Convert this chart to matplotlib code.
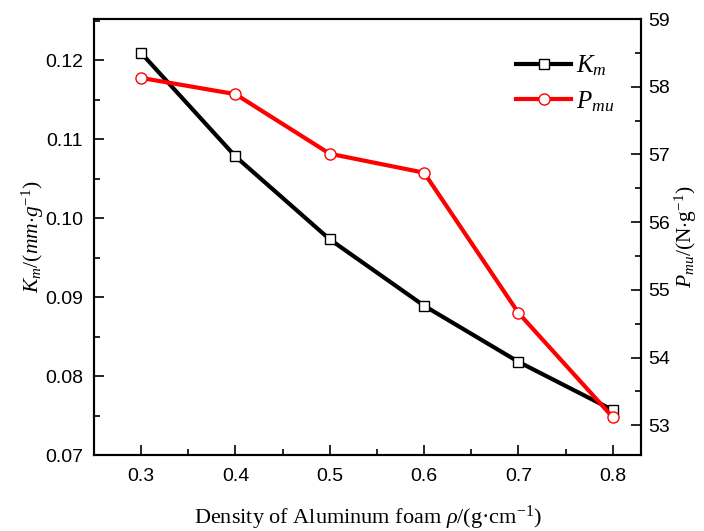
import matplotlib.pyplot as plt
from matplotlib.ticker import MultipleLocator

plt.rcParams['font.family'] = ['Liberation Sans', 'DejaVu Sans']
plt.rcParams['mathtext.fontset'] = 'custom'
plt.rcParams['mathtext.rm'] = 'Liberation Serif'
plt.rcParams['mathtext.it'] = 'Liberation Serif:italic'

density = [0.3, 0.4, 0.5, 0.6, 0.7, 0.8]
k_m = [0.1209, 0.1078, 0.0973, 0.0889, 0.0818, 0.0757]
p_mu = [58.13, 57.89, 57.01, 56.73, 54.66, 53.12]

fig = plt.figure(figsize=(7.04, 5.31), dpi=100)
ax = fig.add_axes([0.1335, 0.1431, 0.777, 0.8211])
ax2 = ax.twinx()

l1, = ax.plot(density, k_m, color='black', lw=3, marker='s', ms=7,
              mfc='white', mec='black', mew=1, label='$K_m$', zorder=3)
l2, = ax2.plot(density, p_mu, color='red', lw=3, marker='o', ms=8,
               mfc='white', mec='red', mew=1, label='$P_{mu}$', zorder=3)

ax.set_xlim(0.25, 0.83)
ax.set_ylim(0.07, 0.1252)
ax2.set_ylim(52.56, 59)

ax.xaxis.set_major_locator(MultipleLocator(0.1))
ax.xaxis.set_minor_locator(MultipleLocator(0.05))
ax.yaxis.set_major_locator(MultipleLocator(0.01))
ax.yaxis.set_minor_locator(MultipleLocator(0.005))
ax2.yaxis.set_major_locator(MultipleLocator(1))
ax2.yaxis.set_minor_locator(MultipleLocator(0.5))
ax.yaxis.set_major_formatter(plt.FormatStrFormatter('%.2f'))
ax.xaxis.set_major_formatter(plt.FormatStrFormatter('%.1f'))

ax.tick_params(which='both', direction='in', top=False, right=False, labelsize=14, width=1.2)
ax.tick_params(which='major', length=7)
ax.tick_params(which='minor', length=4)
ax.tick_params(axis='x', pad=9)
ax.tick_params(axis='y', pad=8)
ax2.tick_params(which='both', direction='in', labelsize=14, width=1.2, pad=5)
ax2.tick_params(which='major', length=7)
ax2.tick_params(which='minor', length=4)
for a in (ax, ax2):
    for s in a.spines.values():
        s.set_linewidth(1.5)

ax.set_xlabel('Density of Aluminum foam $\\rho$/(g\u00b7cm$^{\\mathrm{-1}}$)',
              fontsize=16, family='Liberation Serif', labelpad=14)
ax.set_ylabel(r'$K_m/(mm{\cdot}g^{-1})$', fontsize=15.5, labelpad=-1)
ax2.set_ylabel(r'$P_{mu}\mathrm{/(N{\cdot}g^{-1})}$', fontsize=15.5, labelpad=2)

ax.legend(handles=[l1, l2], loc='upper right', frameon=False, fontsize=18,
          bbox_to_anchor=(0.993, 0.973), handlelength=2.2, handletextpad=0.2,
          labelspacing=0.45)

fig.savefig('out.png', dpi=100)
